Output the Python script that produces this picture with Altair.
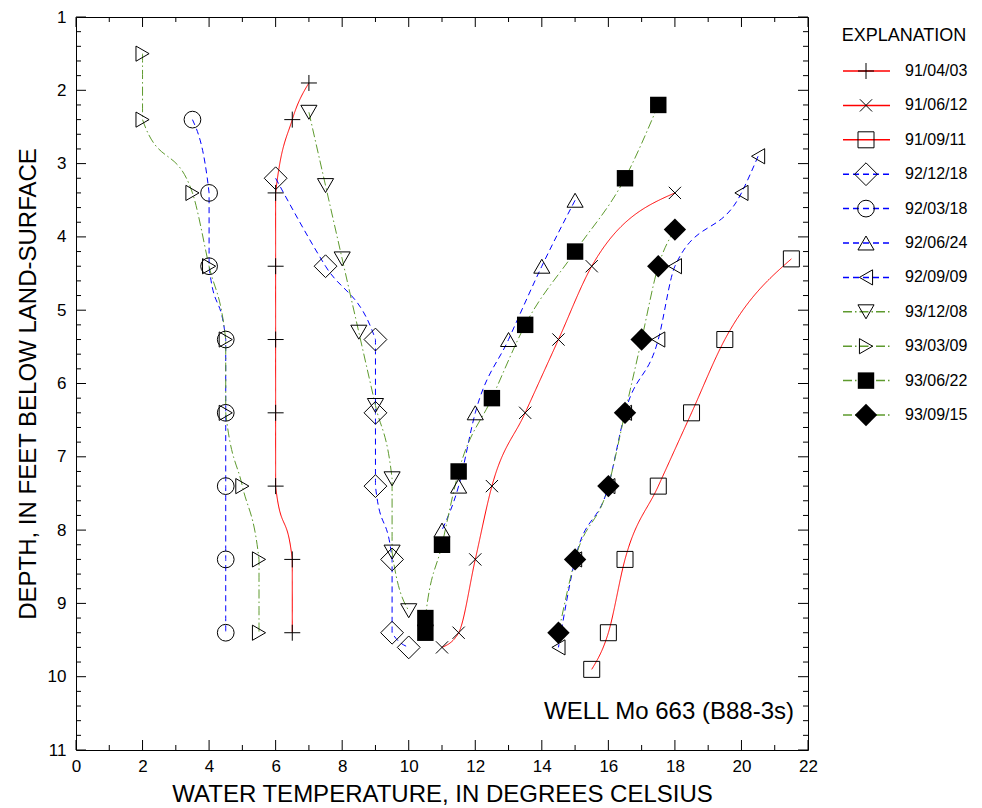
import altair as alt
import pandas as pd

# ---------------- data ----------------
series = ["91/04/03", "91/06/12", "91/09/11", "92/12/18", "92/03/18", "92/06/24",
          "92/09/09", "93/12/08", "93/03/09", "93/06/22", "93/09/15"]

t_910403 = [7.0, 6.5, 6.0, 6.0, 6.0, 6.0, 6.0, 6.5, 6.5]
d_910403 = [1.9, 2.4, 3.4, 4.4, 5.4, 6.4, 7.4, 8.4, 9.4]

t_910612 = [18.0, 15.5, 14.5, 13.5, 12.5, 12.0, 11.5, 11.0]
d_910612 = [3.4, 4.4, 5.4, 6.4, 7.4, 8.4, 9.4, 9.6]

t_910911 = [21.5, 19.5, 18.5, 17.5, 16.5, 16.0, 15.5]
d_910911 = [4.3, 5.4, 6.4, 7.4, 8.4, 9.4, 9.9]

t_921218 = [6.0, 7.5, 9.0, 9.0, 9.0, 9.5, 9.5, 10.0]
d_921218 = [3.2, 4.4, 5.4, 6.4, 7.4, 8.4, 9.4, 9.6]

t_920318 = [3.5, 4.0, 4.0, 4.5, 4.5, 4.5, 4.5, 4.5]
d_920318 = [2.4, 3.4, 4.4, 5.4, 6.4, 7.4, 8.4, 9.4]

t_920624 = [15.0, 14.0, 13.0, 12.0, 11.5, 11.0]
d_920624 = [3.5, 4.4, 5.4, 6.4, 7.4, 8.0]

t_920909 = [20.5, 20.0, 18.0, 17.5, 16.5, 16.0, 15.0, 14.5]
d_920909 = [2.9, 3.4, 4.4, 5.4, 6.4, 7.4, 8.4, 9.6]

t_931208 = [7.0, 7.5, 8.0, 8.5, 9.0, 9.5, 9.5, 10.0]
d_931208 = [2.3, 3.3, 4.3, 5.3, 6.3, 7.3, 8.3, 9.1]

t_930309 = [2.0, 2.0, 3.5, 4.0, 4.5, 4.5, 5.0, 5.5, 5.5]
d_930309 = [1.5, 2.4, 3.4, 4.4, 5.4, 6.4, 7.4, 8.4, 9.4]

t_930622 = [17.5, 16.5, 15.0, 13.5, 12.5, 11.5, 11.0, 10.5, 10.5]
d_930622 = [2.2, 3.2, 4.2, 5.2, 6.2, 7.2, 8.2, 9.2, 9.4]

t_930915 = [18.0, 17.5, 17.0, 16.5, 16.0, 15.0, 14.5]
d_930915 = [3.9, 4.4, 5.4, 6.4, 7.4, 8.4, 9.4]

temps = [t_910403, t_910612, t_910911, t_921218, t_920318, t_920624,
         t_920909, t_931208, t_930309, t_930622, t_930915]
depths = [d_910403, d_910612, d_910911, d_921218, d_920318, d_920624,
          d_920909, d_931208, d_930309, d_930622, d_930915]

x_label_values = [0, 2, 4, 6, 8, 10, 12, 14, 16, 18, 20, 22]
x_minor_values = [1, 3, 5, 7, 9, 11, 13, 15, 17, 19, 21]
y_label_values = [1, 2, 3, 4, 5, 6, 7, 8, 9, 10, 11]

x_title = "WATER TEMPERATURE, IN DEGREES CELSIUS"
y_title = "DEPTH, IN FEET BELOW LAND-SURFACE"
well_label = "WELL Mo 663 (B88-3s)"
legend_title = "EXPLANATION"

# ---------------- styles ----------------
RED, BLUE, GREEN = "#ff0000", "#0000ff", "#5e9a2e"
colors = [RED, RED, RED, BLUE, BLUE, BLUE, BLUE, GREEN, GREEN, GREEN, GREEN]
SOLID, DASH, DASHDOT = [1, 0], [6, 4], [9, 3, 1.5, 3]
dashes = [SOLID] * 3 + [DASH] * 4 + [DASHDOT] * 4
PLUS = "M-1,0L1,0M0,-1L0,1"
XMARK = "M-1,-1L1,1M-1,1L1,-1"
shapes = [PLUS, XMARK, "square", "diamond", "circle", "triangle-up",
          "triangle-left", "triangle-down", "triangle-right", "square", "diamond"]
filled = [False] * 9 + [True, True]
sizes = [256, 150, 256, 520, 280, 260, 230, 260, 230, 270, 500]

FONT = "Liberation Sans"
W, H = 732, 733

rows = []
for name, ts, ds in zip(series, temps, depths):
    for t, d in zip(ts, ds):
        rows.append({"series": name, "temp": t, "depth": d})
df = pd.DataFrame(rows)


def xs():
    return alt.Scale(domain=[0, 22], nice=False, zero=False)


def ys():
    return alt.Scale(domain=[1, 11], nice=False, zero=False, reverse=True)


color_s = alt.Scale(domain=series, range=colors)
dash_s = alt.Scale(domain=series, range=dashes)

y_minor_values = [round(1 + 0.2 * i, 1) for i in range(51) if i % 5 != 0]

layers = []

# axis labels and titles (no ticks; frame drawn by the view stroke)
layers.append(alt.Chart(df).mark_point(opacity=0).encode(
    x=alt.X("temp:Q", scale=xs(), axis=alt.Axis(
        orient="bottom", values=x_label_values, ticks=False, domain=False, grid=False,
        labelFontSize=17, labelPadding=8, labelColor="black", labelFont=FONT,
        title=x_title, titleFontSize=24, titleFontWeight="normal", titleFont=FONT,
        titleColor="black", titlePadding=8, labelFlush=False, format="d")),
    y=alt.Y("depth:Q", scale=ys(), axis=alt.Axis(
        orient="left", values=y_label_values, ticks=False, domain=False, grid=False,
        labelFontSize=17, labelPadding=10, labelColor="black", labelFont=FONT,
        title=y_title, titleFontSize=24, titleFontWeight="normal", titleFont=FONT,
        titleColor="black", titlePadding=7, labelFlush=False, format="d")),
))

# inward tick marks on all four sides, positioned through the scales
for vals, length in [(x_label_values, 10), (x_minor_values, 5)]:
    tdf = pd.DataFrame({"v": vals})
    for y0, y1 in [(H, H - length), (0, length)]:
        layers.append(alt.Chart(tdf).mark_rule(color="black", strokeWidth=1).encode(
            x=alt.X("v:Q", scale=xs(), axis=None), y=alt.value(y0), y2=alt.value(y1)))
for vals, length in [(y_label_values, 10), (y_minor_values, 5)]:
    tdf = pd.DataFrame({"v": vals})
    for x0, x1 in [(0, length), (W, W - length)]:
        layers.append(alt.Chart(tdf).mark_rule(color="black", strokeWidth=1).encode(
            y=alt.Y("v:Q", scale=ys(), axis=None), x=alt.value(x0), x2=alt.value(x1)))

# profile lines
layers.append(alt.Chart(df).mark_line(interpolate="monotone", orient="horizontal",
                                      strokeWidth=1).encode(
    x=alt.X("temp:Q", scale=xs(), axis=None),
    y=alt.Y("depth:Q", scale=ys(), axis=None),
    color=alt.Color("series:N", scale=color_s, legend=None),
    strokeDash=alt.StrokeDash("series:N", scale=dash_s, legend=None),
    order=alt.Order("depth:Q"),
))

# profile markers
for name, shp, sz, fl in zip(series, shapes, sizes, filled):
    layers.append(alt.Chart(df).transform_filter(alt.datum.series == name).mark_point(
        shape=shp, size=sz, filled=fl, color="black", opacity=1, strokeWidth=1).encode(
        x=alt.X("temp:Q", scale=xs(), axis=None),
        y=alt.Y("depth:Q", scale=ys(), axis=None),
    ))

# well label
layers.append(alt.Chart(pd.DataFrame({"t": [well_label]})).mark_text(
    align="right", baseline="alphabetic", fontSize=24, font=FONT, color="black"
).encode(x=alt.value(718), y=alt.value(702), text="t:N"))

# ---------------- legend (outside the plot on the right) ----------------
leg_df = pd.DataFrame({"series": series})


def leg_y():
    return alt.Y("series:N", scale=alt.Scale(type="point", domain=series, range=[54, 398],
                                             padding=0),
                 axis=None)


layers.append(alt.Chart(leg_df).mark_rule(strokeWidth=1.5).encode(
    x=alt.value(W + 35), x2=alt.value(W + 82), y=leg_y(),
    color=alt.Color("series:N", scale=color_s, legend=None),
    strokeDash=alt.StrokeDash("series:N", scale=dash_s, legend=None),
))
for name, shp, sz, fl in zip(series, shapes, sizes, filled):
    layers.append(alt.Chart(leg_df).transform_filter(alt.datum.series == name).mark_point(
        shape=shp, size=sz, filled=fl, color="black", opacity=1, strokeWidth=1).encode(
        x=alt.value(W + 58), y=leg_y()))
layers.append(alt.Chart(leg_df).mark_text(align="left", baseline="middle", fontSize=16,
                                          font=FONT, color="black").encode(
    x=alt.value(W + 97), y=leg_y(), text="series:N"))
layers.append(alt.Chart(pd.DataFrame({"t": [legend_title]})).mark_text(
    align="center", baseline="middle", fontSize=18, font=FONT, color="black"
).encode(x=alt.value(W + 96), y=alt.value(19), text="t:N"))

chart = alt.layer(*layers).resolve_scale(y="independent").resolve_axis(
    x="independent", y="independent").properties(
    width=W, height=H,
    view=alt.ViewBackground(stroke="black", strokeWidth=1),
    padding={"left": 8, "top": 0, "right": 0, "bottom": 0},
).configure(font=FONT)

chart.save("out.html", embed_options={"renderer": "svg", "actions": False})
